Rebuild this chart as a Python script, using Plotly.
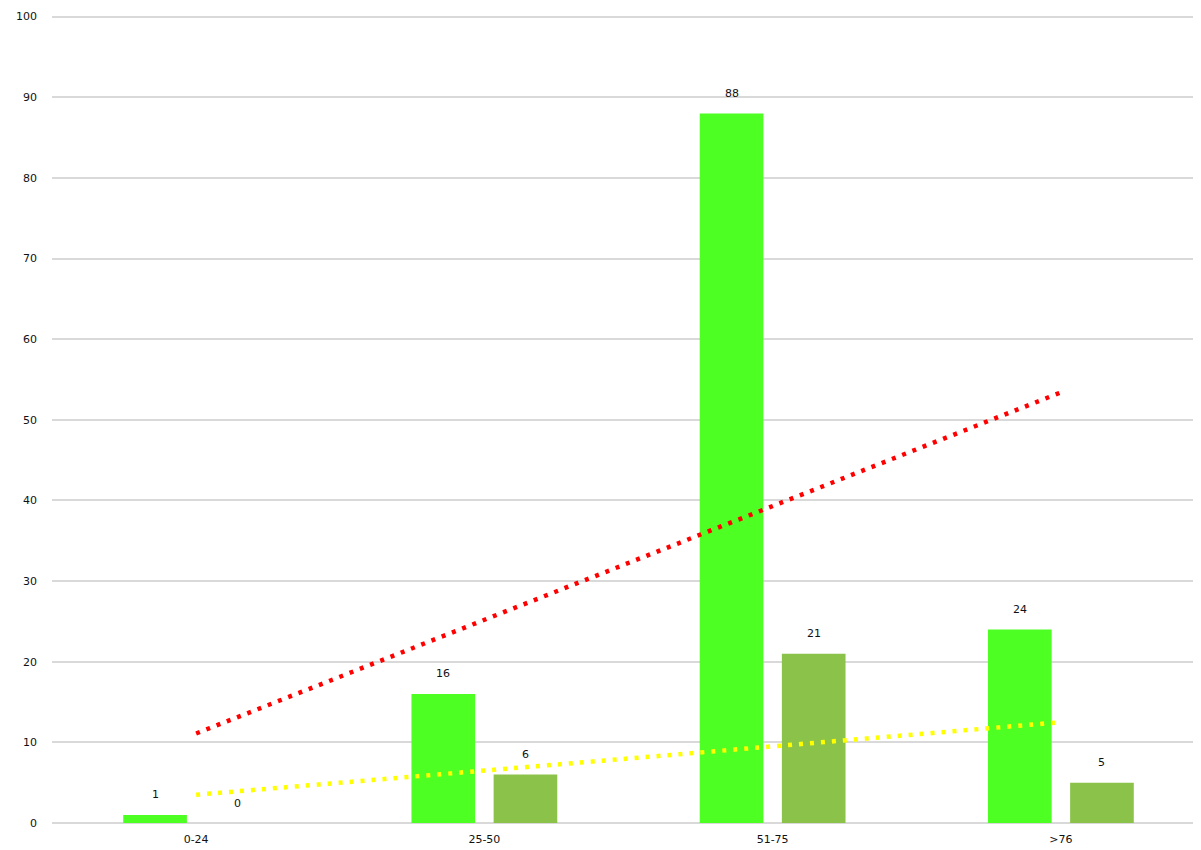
import plotly.graph_objects as go

categories = ["0-24", "25-50", "51-75", ">76"]
series_a = [1, 16, 88, 24]
series_b = [0, 6, 21, 5]
trend_a = [11.1, 53.4]   # linear trend of series_a, first to last category
trend_b = [3.5, 12.5]    # linear trend of series_b
y_ticks = list(range(0, 101, 10))

fig = go.Figure()
fig.add_trace(go.Bar(x=categories, y=series_a, marker=dict(color="#4DFF22", line=dict(width=0)),
                     name="A", hoverinfo="y"))
fig.add_trace(go.Bar(x=categories, y=series_b, marker=dict(color="#8BC34A", line=dict(width=0)),
                     name="B", hoverinfo="y"))
fig.add_trace(go.Scatter(x=[categories[0], categories[-1]], y=trend_a, mode="lines",
                         line=dict(color="#FF0000", width=4.5, dash="4px,7px"), hoverinfo="skip"))
fig.add_trace(go.Scatter(x=[categories[0], categories[-1]], y=trend_b, mode="lines",
                         line=dict(color="#FFFF00", width=4.5, dash="4px,7px"), hoverinfo="skip"))

font = dict(family="DejaVu Sans", size=11, color="#111111")
for c, v in zip(categories, series_a):
    fig.add_annotation(x=c, y=v, text=str(v), showarrow=False, xshift=-41, yshift=20,
                       yanchor="middle", font=font)
for c, v in zip(categories, series_b):
    fig.add_annotation(x=c, y=v, text=str(v), showarrow=False, xshift=41, yshift=20,
                       yanchor="middle", font=font)

fig.update_layout(
    width=1197, height=842,
    margin=dict(l=44, r=0, t=7, b=27, autoexpand=False),
    paper_bgcolor="white", plot_bgcolor="white",
    barmode="group", bargap=0.43, bargroupgap=0.225,
    showlegend=False,
    font=font,
    xaxis=dict(type="category", showgrid=False, showline=False, ticks="", tickfont=font,
               ticklabelstandoff=8, automargin=False),
    yaxis=dict(range=[0, 100.2], tickvals=y_ticks, showgrid=True, gridcolor="#D9D9D9", gridwidth=2,
               zeroline=True, zerolinecolor="#D9D9D9", zerolinewidth=2, showline=False,
               ticks="", tickfont=font, ticklabelstandoff=14, automargin=False),
)
fig.write_html("out.html")
